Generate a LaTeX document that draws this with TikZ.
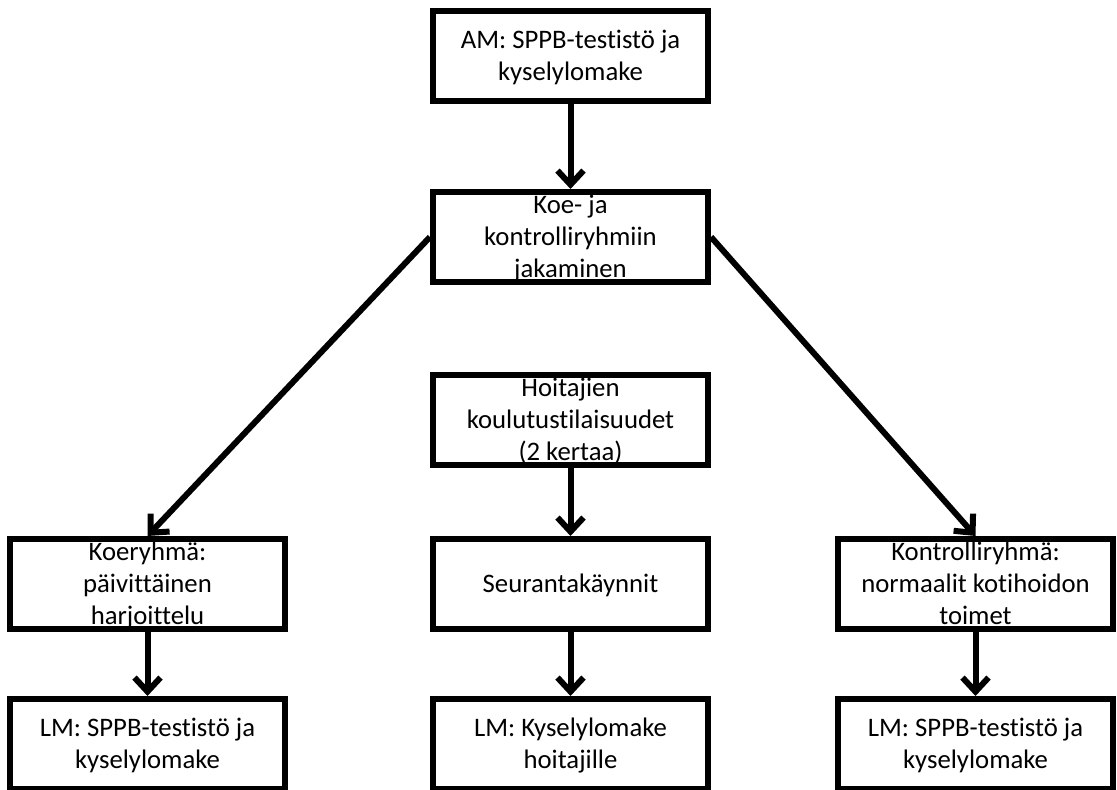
\documentclass[tikz,border=0pt]{standalone}
\usepackage{fontspec}
\setmainfont{Carlito}[Ligatures=NoCommon]
\usetikzlibrary{arrows.meta}
\newcommand{\laatikko}[1]{\smash{\raisebox{-0.2cm}{\begin{tabular}{c}#1\end{tabular}}}}

\begin{document}
\begin{tikzpicture}[x=0.025cm,y=-0.025cm]
  \tikzset{box/.style={draw,line width=0.15cm,minimum width=6.875cm,minimum height=2.25cm,inner sep=0pt,
                       font=\fontsize{19}{22.6}\selectfont},
           nuoli/.style={line width=0.15cm,-{Straight Barb[length=0.35cm,width=0.65cm]}}}
  \useasboundingbox (0,0) rectangle (1117,789);
  \node[box](AMs) at (570.5,56) {\laatikko{AM: SPPB-testistö ja\\kyselylomake}};
  \node[box](jakos) at (570.5,237) {\laatikko{Koe- ja\\kontrolliryhmiin\\jakaminen}};
  \node[box](koulutuss) at (570.5,420) {\laatikko{Hoitajien\\koulutustilaisuudet\\(2 kertaa)}};
  \node[box](koes) at (147.5,584) {\laatikko{Koeryhmä:\\päivittäinen\\harjoittelu}};
  \node[box](seurantas) at (570.5,584) {\laatikko{Seurantakäynnit}};
  \node[box](kontrs) at (975.5,584) {\laatikko{Kontrolliryhmä:\\normaalit kotihoidon\\toimet}};
  \node[box](LMkoes) at (147.5,744) {\laatikko{LM: SPPB-testistö ja\\kyselylomake}};
  \node[box](LMseurantas) at (570.5,744) {\laatikko{LM: Kyselylomake\\hoitajille}};
  \node[box](LMkontrs) at (975.5,744) {\laatikko{LM: SPPB-testistö ja\\kyselylomake}};

\draw[nuoli] (AMs) -- (jakos);
\draw[nuoli] (jakos.west) -- (koes.north);
\draw[nuoli] (jakos.east) -- (kontrs.north);
\draw[nuoli] (koulutuss) -- (seurantas);
\draw[nuoli] (koes) -- (LMkoes);
\draw[nuoli] (seurantas) -- (LMseurantas);
\draw[nuoli] (kontrs) -- (LMkontrs);

\end{tikzpicture}
\end{document}
